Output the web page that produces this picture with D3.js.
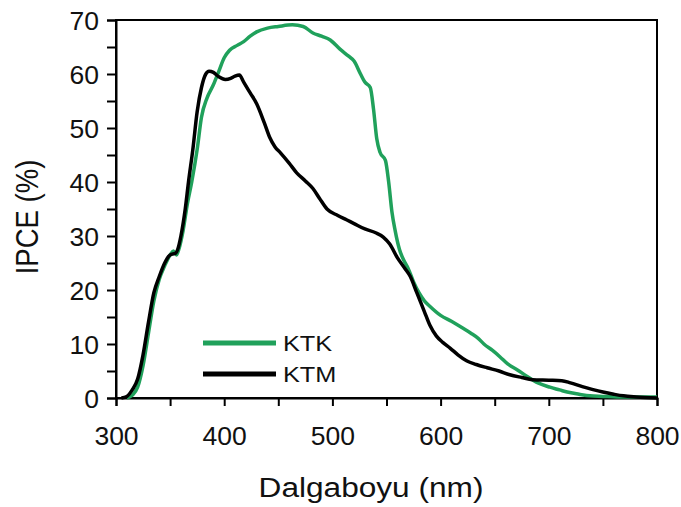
<!DOCTYPE html>
<html>
<head>
<meta charset="utf-8">
<script src="https://cdn.jsdelivr.net/npm/d3@7"></script>
<style>
  html, body { margin: 0; padding: 0; background: #fff; }
  svg { display: block; font-family: "Liberation Sans", Arial, sans-serif; }
</style>
</head>
<body>
<svg id="chart" width="681" height="507"></svg>
<script>
// IPCE spectra (%) versus wavelength (nm)
const ktkWavelength = [310,315,320,325,330,335,340,345,350,353,356,358,362,366,370,375,379,384,390,395,400,405,412,418,424,430,440,450,463,473,482,490,498,507,515,520,526,530,535,538,541,544,549,552,555,558,562,566,570,575,580,585,590,600,610,620,628,635,640,648,655,662,671,680,690,701,710,717,728,738,750,763,800];
const ktkIpce = [0,0.5,2,6,12,18,22,24.5,26.5,27.2,26.5,27.5,31,36,40,46,52,55.5,58,60.5,63,64.4,65.3,66,67,67.8,68.5,68.8,69.1,68.8,67.6,67,66.3,64.6,63.3,62.4,60,58.5,57.5,53.5,48,45.5,44,40,34.5,31,27.5,25.5,24,21.5,19.5,18,17,15.3,14.2,13,12,11,10,8.8,7.6,6.3,5.2,4,2.8,2,1.5,1.1,0.7,0.4,0.3,0.2,0.2];

const ktmWavelength = [305,310,315,320,325,330,335,340,345,350,355,357,360,364,367,371,375,379,383,386,390,395,401,406,410,414,418,424,430,437,442,447,452,460,467,475,482,488,495,505,513,520,530,540,547,553,560,567,572,578,585,590,596,602,609,616,624,633,643,654,664,675,685,700,712,720,731,740,750,760,769,781,800];
const ktmIpce = [0,0.3,1.5,3.5,8,14,19.5,22.5,25,26.5,26.8,27.5,30,35,40,46,53,57.5,60,60.5,60.3,59.5,59,59.2,59.6,59.8,58.5,56.5,54.5,51,48.3,46.5,45.4,43.5,41.7,40.2,38.8,37,35,33.8,33,32.3,31.3,30.6,29.8,28.5,26,24,22.5,19.5,16,13.5,11.5,10.3,9.2,8,6.9,6.2,5.6,5,4.3,3.8,3.4,3.3,3.2,2.8,2.1,1.6,1.1,0.7,0.4,0.2,0];

const seriesNames = ["KTK", "KTM"];
const seriesColors = ["#20a15b", "#000000"];
const xTicks = [300, 400, 500, 600, 700, 800];
const yTicks = [0, 10, 20, 30, 40, 50, 60, 70];
const xTitle = "Dalgaboyu (nm)";
const yTitle = "IPCE (%)";

const svg = d3.select("#chart");
const plot = { left: 116, right: 657, top: 20, bottom: 398 };
const stretch = 1.15;   // wide glyph proportions of the titles

const x = d3.scaleLinear().domain([300, 800]).range([plot.left, plot.right]);
const y = d3.scaleLinear().domain([0, 70]).range([plot.bottom, plot.top]);

// frame
svg.append("rect")
  .attr("x", plot.left).attr("y", plot.top)
  .attr("width", plot.right - plot.left).attr("height", plot.bottom - plot.top)
  .attr("fill", "none").attr("stroke", "#000").attr("stroke-width", 2);

// x axis: major labels every 100, ticks every 50
const xAxis = svg.append("g")
  .attr("transform", `translate(0,${plot.bottom})`)
  .call(d3.axisBottom(x).tickValues(d3.range(300, 801, 50)).tickSize(8)
    .tickFormat(d => xTicks.includes(d) ? d : ""));
xAxis.select(".domain").attr("stroke-width", 2);
xAxis.selectAll(".tick line").attr("stroke-width", 2);
xAxis.selectAll(".tick text")
  .attr("y", 28).attr("dy", "0.71em")
  .attr("font-size", 26.5).attr("fill", "#111")
  .attr("font-family", "Liberation Sans, Arial, sans-serif");

// y axis: major labels every 10, ticks every 5
const yAxis = svg.append("g")
  .attr("transform", `translate(${plot.left},0)`)
  .call(d3.axisLeft(y).tickValues(d3.range(0, 71, 5)).tickSize(9)
    .tickFormat(d => yTicks.includes(d) ? d : ""));
yAxis.select(".domain").attr("stroke-width", 2);
yAxis.selectAll(".tick line").attr("stroke-width", 2);
yAxis.selectAll(".tick text")
  .attr("x", -17).attr("dy", "0.36em")
  .attr("font-size", 26.5).attr("fill", "#111")
  .attr("font-family", "Liberation Sans, Arial, sans-serif");

// axis titles
svg.append("text")
  .attr("transform", `translate(371,497) scale(${stretch},1)`)
  .attr("text-anchor", "middle")
  .attr("font-size", 27.5).attr("fill", "#111")
  .text(xTitle);

svg.append("text")
  .attr("transform", `translate(38,${(plot.top + plot.bottom) / 2 + 8}) rotate(-90) scale(1,${stretch})`)
  .attr("text-anchor", "middle")
  .attr("font-size", 27.5).attr("fill", "#111")
  .text(yTitle);

// curves
const line = d3.line()
  .x(d => x(d[0]))
  .y(d => y(d[1]))
  .curve(d3.curveMonotoneX);

const series = [
  { name: seriesNames[0], color: seriesColors[0], pts: d3.zip(ktkWavelength, ktkIpce) },
  { name: seriesNames[1], color: seriesColors[1], pts: d3.zip(ktmWavelength, ktmIpce) }
];

svg.append("g")
  .selectAll("path")
  .data(series)
  .join("path")
  .attr("d", d => line(d.pts))
  .attr("fill", "none")
  .attr("stroke", d => d.color)
  .attr("stroke-width", 3.5)
  .attr("stroke-linejoin", "round");

// legend
const legend = svg.append("g").attr("transform", "translate(203,343)");
const items = legend.selectAll("g")
  .data(series)
  .join("g")
  .attr("transform", (d, i) => `translate(0,${i * 31})`);
items.append("line")
  .attr("x1", 0).attr("x2", 73).attr("y1", 0).attr("y2", 0)
  .attr("stroke", d => d.color).attr("stroke-width", 5);
items.append("text")
  .attr("transform", `translate(80,0) scale(${stretch},1)`)
  .attr("dy", "0.36em")
  .attr("font-size", 22).attr("fill", "#111")
  .text(d => d.name);
</script>
</body>
</html>
